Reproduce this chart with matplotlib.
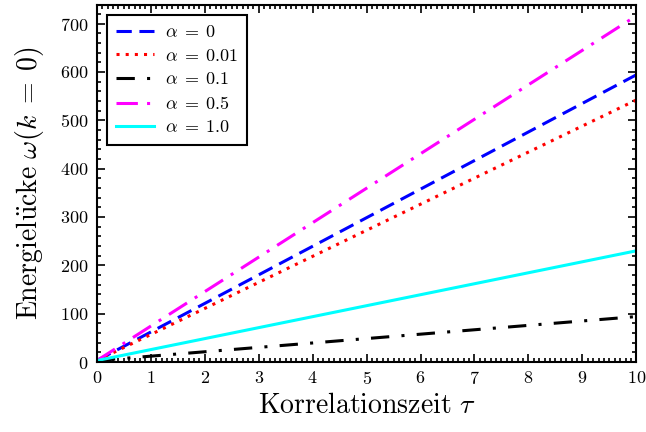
import numpy as np
from matplotlib import pyplot as plt
from matplotlib.ticker import MultipleLocator

plt.rcParams['mathtext.fontset'] = 'cm'
plt.rcParams['font.family'] = 'serif'
plt.rcParams['font.serif'] = ['cmr10', 'DejaVu Serif']
plt.rcParams['axes.formatter.use_mathtext'] = True

# correlation time range and gap at tau = 0 / tau = 10
tau = np.array([0., 10.])
alphas = ['0', '0.01', '0.1', '0.5', '1.0']
gap_start = [3., 3., 3., 3., 3.]
gap_end = [594., 542., 94., 716., 230.]

colors = ['blue', 'red', 'black', 'magenta', 'cyan']
styles = [(0, (5, 2.5)), (0, (1, 2)), (0, (6, 4, 1, 4)), (0, (7, 3, 1, 3)), '-']

fig = plt.figure(figsize=(6.46, 4.32), dpi=100)
ax = fig.add_axes([0.150, 0.162, 0.835, 0.826])

for i in range(len(alphas)):
    gap = [gap_start[i], gap_end[i]]
    ax.plot(tau, gap, color=colors[i], linestyle=styles[i], lw=2.2,
            label=rf'$\alpha\;=\;{alphas[i]}$')

ax.set_xlim(0, 10)
ax.set_ylim(0, 738)
ax.xaxis.set_major_locator(MultipleLocator(1))
ax.xaxis.set_minor_locator(MultipleLocator(0.1))
ax.yaxis.set_major_locator(MultipleLocator(100))
ax.yaxis.set_minor_locator(MultipleLocator(20))
ax.tick_params(which='both', direction='in', top=True, right=True, width=1.2)
ax.tick_params(which='major', length=6, labelsize=13, pad=6)
ax.tick_params(which='minor', length=3)
for s in ax.spines.values():
    s.set_linewidth(1.5)

ax.set_xlabel(r'$\mathrm{Korrelationszeit}\ \tau$', fontsize=20, labelpad=4)
ax.set_ylabel(r'$\mathrm{Energiel\ddot{u}cke}\ \omega(k\;=\;0)$', fontsize=20, labelpad=10)

leg = ax.legend(loc='upper left', fontsize=13, fancybox=False, framealpha=1,
                edgecolor='black', handlelength=2.1, handletextpad=0.6,
                borderpad=0.5, labelspacing=0.42, borderaxespad=0.55)
leg.get_frame().set_linewidth(1.5)

fig.savefig('out.png', dpi=100)
